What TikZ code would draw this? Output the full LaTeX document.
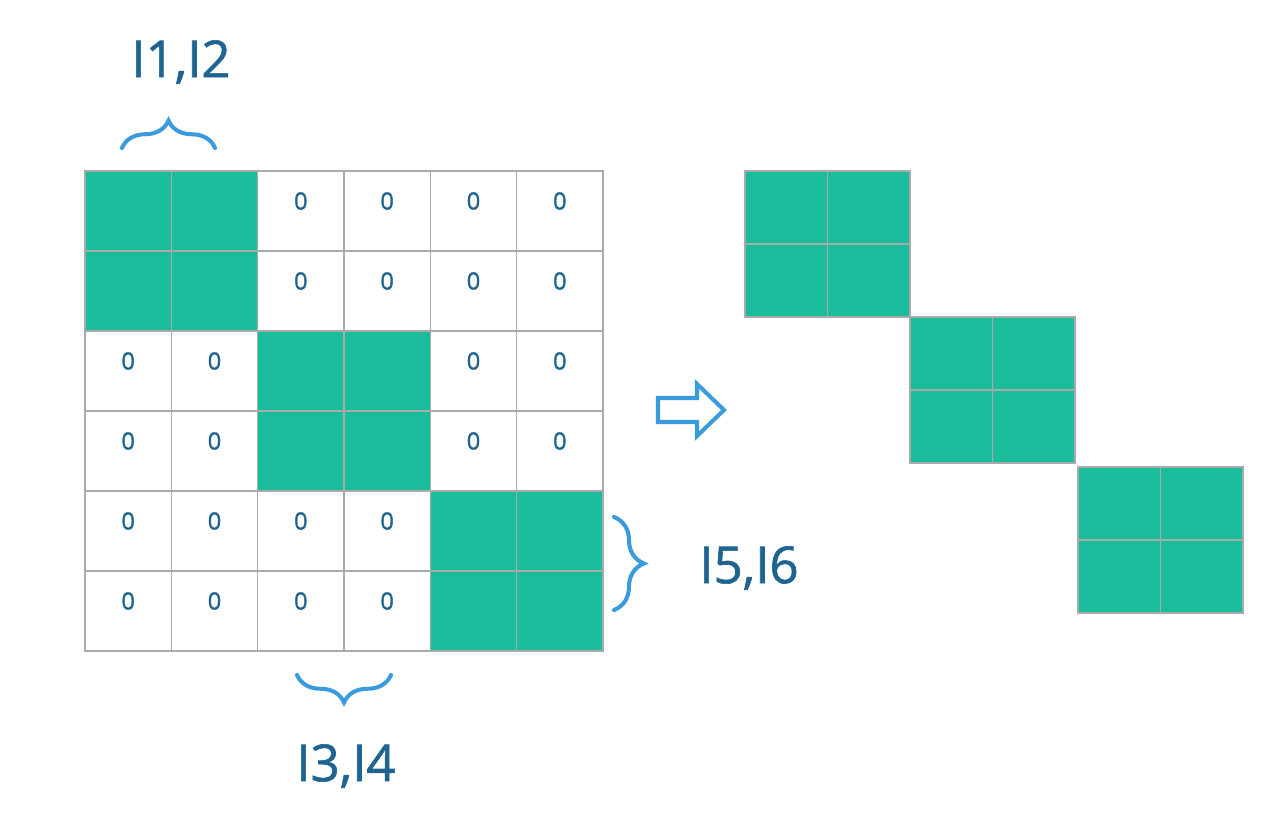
\documentclass[tikz,border=0pt]{standalone}
\usepackage{fontspec}
\setmainfont{Open Sans}
\newfontfamily\heavyfont[FakeBold=1.2]{Open Sans}
\usetikzlibrary{decorations.pathreplacing}
\definecolor{blockgreen}{HTML}{1ABC9C}
\definecolor{gridgray}{HTML}{AAAAAA}
\definecolor{labelblue}{HTML}{1F6391}
\definecolor{bracecol}{HTML}{3A9BDC}
\tikzset{
  cell/.style={draw=gridgray,line width=0.6pt,minimum width=1.7267cm,minimum height=1.6cm,inner sep=0pt},
  fullcell/.style={cell,fill=blockgreen},
  zerotext/.style={text=labelblue,font=\heavyfont\fontsize{13.5}{13.5}\selectfont},
  smallcell/.style={draw=gridgray,line width=0.6pt,fill=blockgreen,minimum width=1.65cm,minimum height=1.46cm,inner sep=0pt},
  bracket/.style={draw=bracecol,line width=2.3pt,line cap=round,decorate,decoration={brace,amplitude=#1}},
  grouplabel/.style={text=labelblue,font=\heavyfont\fontsize{29}{29}\selectfont}
}
\begin{document}
\begin{tikzpicture}[x=0.02cm,y=-0.02cm]
  \useasboundingbox (0,0) rectangle (1268,820);

  % left matrix
  \foreach \r in {0,...,5}{
    \foreach \c in {0,...,5}{
      \pgfmathtruncatemacro{\rb}{int(\r/2)}
      \pgfmathtruncatemacro{\cb}{int(\c/2)}
      \ifnum\rb=\cb
        \node[fullcell] (m-\r-\c) at (85+86.33*\c+43.17, 171+80*\r+40) {};
      \else
        \node[cell] (m-\r-\c) at (85+86.33*\c+43.17, 171+80*\r+40) {};
        \node[zerotext] (z-\r-\c) at ([yshift=0.2cm]m-\r-\c.center) {0};
      \fi
    }
  }

  % right blocks
  \foreach \k/\bx/\by in {0/745/171, 1/910/317, 2/1078/467}{
    \foreach \r in {0,1}{
      \foreach \c in {0,1}{
        \node[smallcell] (b-\k-\r-\c) at (\bx+82.5*\c+41.25, \by+73*\r+36.5) {};
      }
    }
  }

  % braces and labels
  \coordinate (t1) at (122,148);
  \coordinate (t2) at (215,148);
  \draw[bracket=0.55cm] (t1) -- (t2);
  \node[grouplabel] (lab12) at (181,62) {I1,I2};

  \coordinate (s1) at (614,517);
  \coordinate (s2) at (614,610);
  \draw[bracket=0.6cm] (s1) -- (s2);
  \node[grouplabel] (lab56) at (749,568) {I5,I6};

  \coordinate (d1) at (391,675);
  \coordinate (d2) at (297,675);
  \draw[bracket=0.55cm] (d1) -- (d2);
  \node[grouplabel] (lab34) at (346,766) {I3,I4};

  % hollow arrow
  \draw[bracecol,line width=2.3pt,line join=miter]
    (658,398) -- (697,398) -- (697,384) -- (724,410) -- (697,436) -- (697,422) -- (658,422) -- cycle;
\end{tikzpicture}
\end{document}
